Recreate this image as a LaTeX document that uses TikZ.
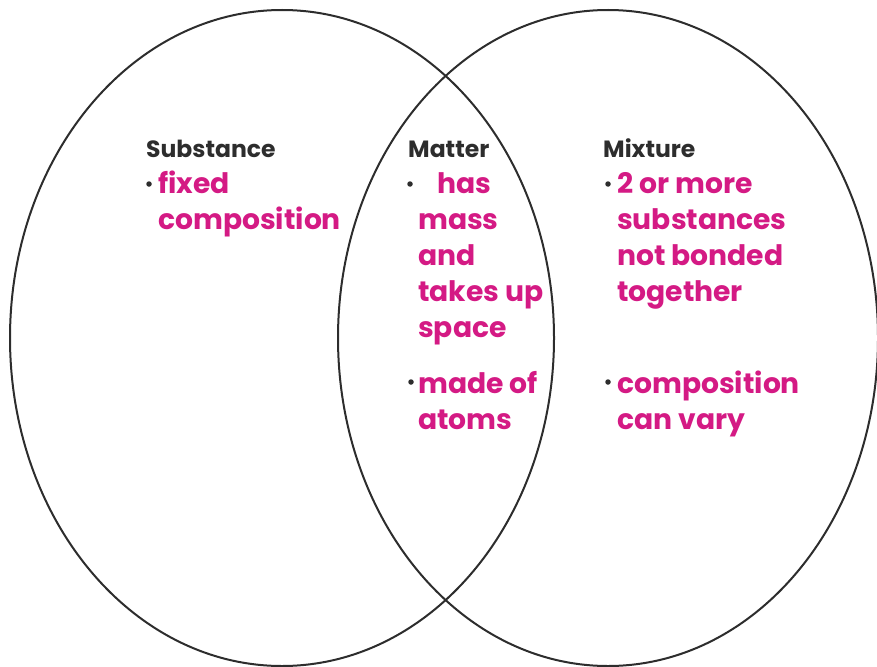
\documentclass[tikz,border=0pt]{standalone}
\usepackage{fontspec}
\setmainfont{Poppins}
\usepackage{xcolor}
\usetikzlibrary{positioning}

\definecolor{vennpink}{RGB}{212,26,132}
\definecolor{headgray}{RGB}{45,45,45}

\tikzset{
  ring/.style={draw=headgray, line width=2pt},
  head/.style={anchor=base west, inner sep=0pt, text=headgray, font=\fontsize{23.5}{28}\selectfont\bfseries},
  fact/.style={anchor=base west, inner sep=0pt, text=vennpink, align=left, font=\fontsize{28.2}{36}\selectfont\bfseries},
  bulletdot/.style={circle, fill=headgray, inner sep=0pt, minimum size=5.5pt},
}

\begin{document}
\begin{tikzpicture}[x=1pt,y=-1pt]
  \useasboundingbox (0,0) rectangle (877,666);
  % the two sets
  \draw[ring] (282,338) ellipse [x radius=272, y radius=328];
  \draw[ring] (608,338) ellipse [x radius=270, y radius=328];

  % headings
  \node[head] (subst) at (146,157) {Substance};
  \node[head] (matter) at (408,157) {Matter};
  \node[head] (mixt) at (603,157) {Mixture};

  % left part (base = last line)
  \node[bulletdot] (bs1) at (149,184) {};
  \node[fact] (fixed) at (158,229) {fixed\\composition};

  % middle part
  \node[bulletdot] (bm1) at (410,184) {};
  \node[fact] (mass) at (437,193) {has};
  \node[fact] (mass2) at (418,337) {mass\\and\\takes up\\space};
  \node[bulletdot] (bm2) at (411,382) {};
  \node[fact] (atoms) at (418,429) {made of\\atoms};

  % right part
  \node[bulletdot] (bx1) at (608,184) {};
  \node[fact] (bond) at (617,301) {2 or more\\substances\\not bonded\\together};
  \node[bulletdot] (bx2) at (608,382) {};
  \node[fact] (vary) at (617,429) {composition\\can vary};
\end{tikzpicture}
\end{document}
